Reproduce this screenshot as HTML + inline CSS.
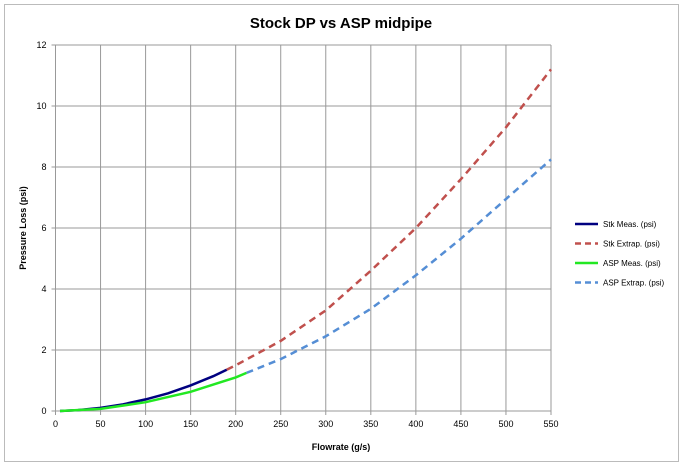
<!DOCTYPE html>
<html><head><meta charset="utf-8"><style>
body{margin:0;background:#fff;font-family:"Liberation Sans",sans-serif}
</style></head><body>
<svg width="683" height="467" style="display:block">
<rect x="4.5" y="4.5" width="674" height="457" fill="#fff" stroke="#bbb"/>
<text x="341" y="28" text-anchor="middle" font-size="15" font-weight="bold">Stock DP vs ASP midpipe</text>
<g id="grid"></g><g id="axes"></g><g id="series"></g>
<text x="341" y="450" text-anchor="middle" font-size="9" font-weight="bold">Flowrate (g/s)</text>
<text transform="translate(26,228) rotate(-90)" text-anchor="middle" font-size="9" font-weight="bold">Pressure Loss (psi)</text>
<g id="legend"></g>
</svg>
<script>
const xTicks=[0,50,100,150,200,250,300,350,400,450,500,550];
const yTicks=[0,2,4,6,8,10,12];
const stkMeasX=[5,25,50,75,100,125,150,175,190];
const stkMeasY=[0,0.03,0.1,0.22,0.38,0.58,0.84,1.14,1.35];
const stkExtX=[190,200,250,300,350,400,450,500,550];
const stkExtY=[1.35,1.5,2.3,3.3,4.6,6.0,7.6,9.3,11.2];
const aspMeasX=[5,50,100,150,200,212];
const aspMeasY=[0,0.07,0.29,0.63,1.1,1.25];
const aspExtX=[212,250,300,350,400,450,500,550];
const aspExtY=[1.25,1.7,2.45,3.35,4.45,5.65,6.95,8.25];
const NS="http://www.w3.org/2000/svg";
const X0=55.5,X1=551,Y0=411,Y1=45;
const sx=v=>X0+(X1-X0)*v/550, sy=v=>Y0-(Y0-Y1)*v/12;
function mk(tag,attrs,parent){const e=document.createElementNS(NS,tag);for(const k in attrs)e.setAttribute(k,attrs[k]);document.getElementById(parent).appendChild(e);return e;}
xTicks.forEach(t=>{
 const l=mk('line',{x1:sx(t),x2:sx(t),y1:Y1,y2:Y0+4,stroke:'#999'},'grid');
 
 
 const tx=mk('text',{x:sx(t),y:Y0+16,'text-anchor':'middle','font-size':'9'},'axes');tx.textContent=t;
 
 
});
yTicks.forEach(t=>{
 const l=mk('line',{x1:X0-4,x2:X1,y1:sy(t),y2:sy(t),stroke:'#999'},'grid');
 
 
 const tx=mk('text',{x:X0-9,y:sy(t)+3,'text-anchor':'end','font-size':'9'},'axes');tx.textContent=t;
 
 
});
function curve(xs,ys,color,dash,name){
 let d='';
 xs.forEach((x,i)=>{d+=(i?'L':'M')+sx(x).toFixed(1)+','+sy(ys[i]).toFixed(1);});
 const p=mk('path',{d:d,fill:'none',stroke:color,'stroke-width':'2.5','stroke-dasharray':dash||'none'},'series');
 
 
}
curve(stkExtX,stkExtY,'#c0504d','7,5','stk-extrap-line');
curve(aspExtX,aspExtY,'#558ed5','7,5','asp-extrap-line');
curve(stkMeasX,stkMeasY,'#000080','','stk-meas-line');
curve(aspMeasX,aspMeasY,'#22e822','','asp-meas-line');
const leg=[['Stk Meas. (psi)','#000080',''],['Stk Extrap. (psi)','#c0504d','6,4'],['ASP Meas. (psi)','#22e822',''],['ASP Extrap. (psi)','#558ed5','6,4']];
leg.forEach((e,i)=>{
 const y=224+i*19.5;
 const l=mk('line',{x1:575,x2:598,y1:y,y2:y,stroke:e[1],'stroke-width':'2.5','stroke-dasharray':e[2]||'none'},'legend');
 
 
 const t=mk('text',{x:603,y:y+3,'font-size':'8'},'legend');t.textContent=e[0];
 
 
});
</script>
</body></html>
